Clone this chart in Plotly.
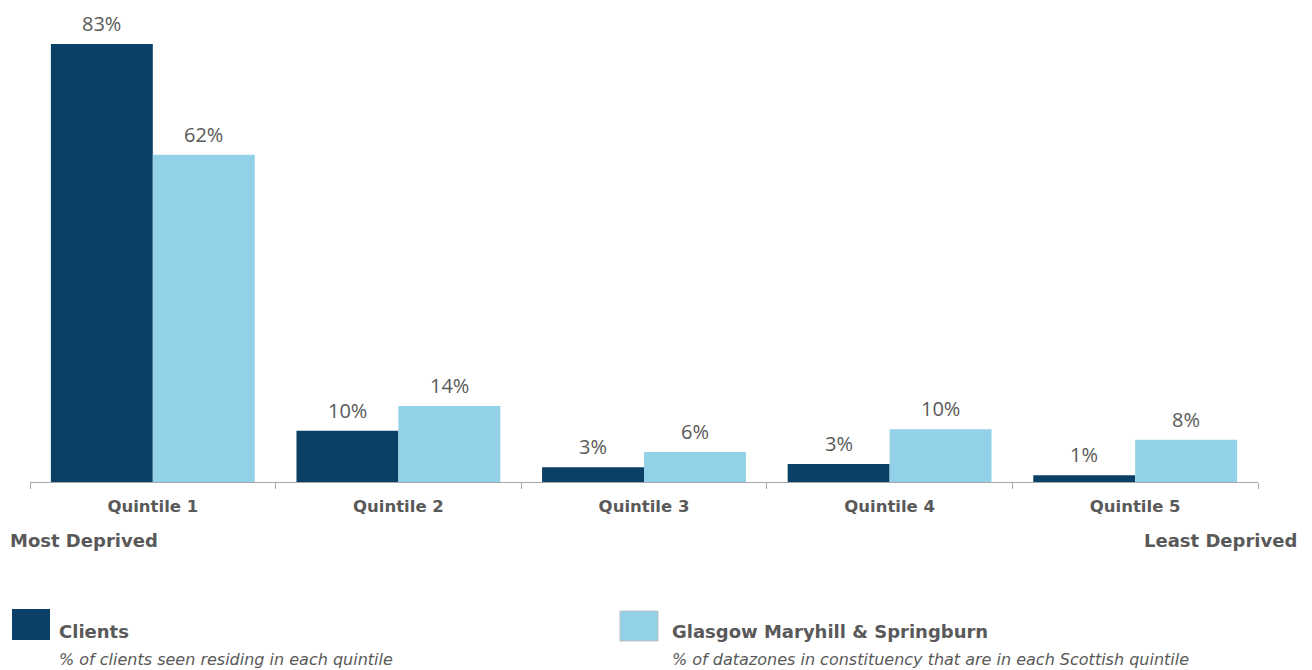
import plotly.graph_objects as go

categories = ["Quintile 1", "Quintile 2", "Quintile 3", "Quintile 4", "Quintile 5"]
clients = [83.0, 9.7, 2.8, 3.4, 1.3]
constituency = [62.0, 14.4, 5.7, 10.0, 8.0]
series_names = ["Clients", "Glasgow Maryhill & Springburn"]
series_notes = ["% of clients seen residing in each quintile",
                "% of datazones in constituency that are in each Scottish quintile"]
end_labels = ["Most Deprived", "Least Deprived"]

DARK = "#0A3F66"
LIGHT = "#92D1E8"
TXT = "#595959"
OFF = 8  # page body margin
W, H = 1312 - OFF, 670 - OFF
AX_L, AX_R, BASE = 30, 1258, 482
T = 2
L = AX_L - OFF
R = W - (AX_R - OFF)
B = H - (BASE - OFF)
pw, ph = W - L - R, H - T - B
BARGAP = 0.17

def px(x):
    return (x - OFF - L) / pw

def py(y):
    return (H - B - (y - OFF)) / ph

fig = go.Figure()
for name, vals, col in [(series_names[0], clients, DARK), (series_names[1], constituency, LIGHT)]:
    fig.add_trace(go.Bar(
        x=categories, y=vals, name=name, marker=dict(color=col, line=dict(width=0)),
        showlegend=False,
    ))

# value labels above bars
bar_w = pw / len(categories) * (1 - BARGAP) / 2
for k, vals in enumerate([clients, constituency]):
    shift = (k - 0.5) * bar_w
    for c, v in zip(categories, vals):
        fig.add_annotation(x=c, y=v, xref="x", yref="y", text=f"{round(v)}%",
                           showarrow=False, xanchor="center", yanchor="bottom",
                           xshift=shift, yshift=5,
                           font=dict(family="Open Sans", size=20, color=TXT))

ymax = ph / (438 / 83.0)
fig.update_layout(
    width=W, height=H, margin=dict(l=L, r=R, t=T, b=B),
    plot_bgcolor="white", paper_bgcolor="white",
    barmode="group", bargap=BARGAP, bargroupgap=0,
    xaxis=dict(showline=True, linecolor="#A6A6A6", linewidth=1, ticks="outside",
               tickson="boundaries", ticklen=6, tickcolor="#A6A6A6", showgrid=False,
               ticklabelstandoff=9,
               tickfont=dict(family="DejaVu Sans", size=16.5, color=TXT, weight="bold")),
    yaxis=dict(visible=False, range=[0, ymax], showgrid=False),
)

anns = [
    dict(x=px(8), y=py(540), text=f"<b>{end_labels[0]}</b>", xanchor="left", yanchor="middle"),
    dict(x=px(1299), y=py(540), text=f"<b>{end_labels[1]}</b>", xanchor="right", yanchor="middle"),
    dict(x=px(57), y=py(631), text=f"<b>{series_names[0]}</b>", xanchor="left", yanchor="middle"),
    dict(x=px(670), y=py(631), text=f"<b>{series_names[1]}</b>", xanchor="left", yanchor="middle"),
]
for a in anns:
    a.update(xref="paper", yref="paper", showarrow=False,
             font=dict(family="DejaVu Sans", size=18, color=TXT))
    fig.add_annotation(**a)
for x0, note in [(57, series_notes[0]), (670, series_notes[1])]:
    fig.add_annotation(x=px(x0), y=py(659), text=f"<i>{note}</i>", xref="paper", yref="paper",
                       showarrow=False, xanchor="left", yanchor="middle",
                       font=dict(family="DejaVu Sans", size=16, color=TXT))

fig.add_shape(type="rect", xref="paper", yref="paper", x0=px(12), x1=px(50), y0=py(640), y1=py(609),
              fillcolor=DARK, line=dict(width=0))
fig.add_shape(type="rect", xref="paper", yref="paper", x0=px(620), x1=px(658), y0=py(641), y1=py(611),
              fillcolor=LIGHT, line=dict(width=1, color="#BFBFBF"))

fig.write_html("out.html")
